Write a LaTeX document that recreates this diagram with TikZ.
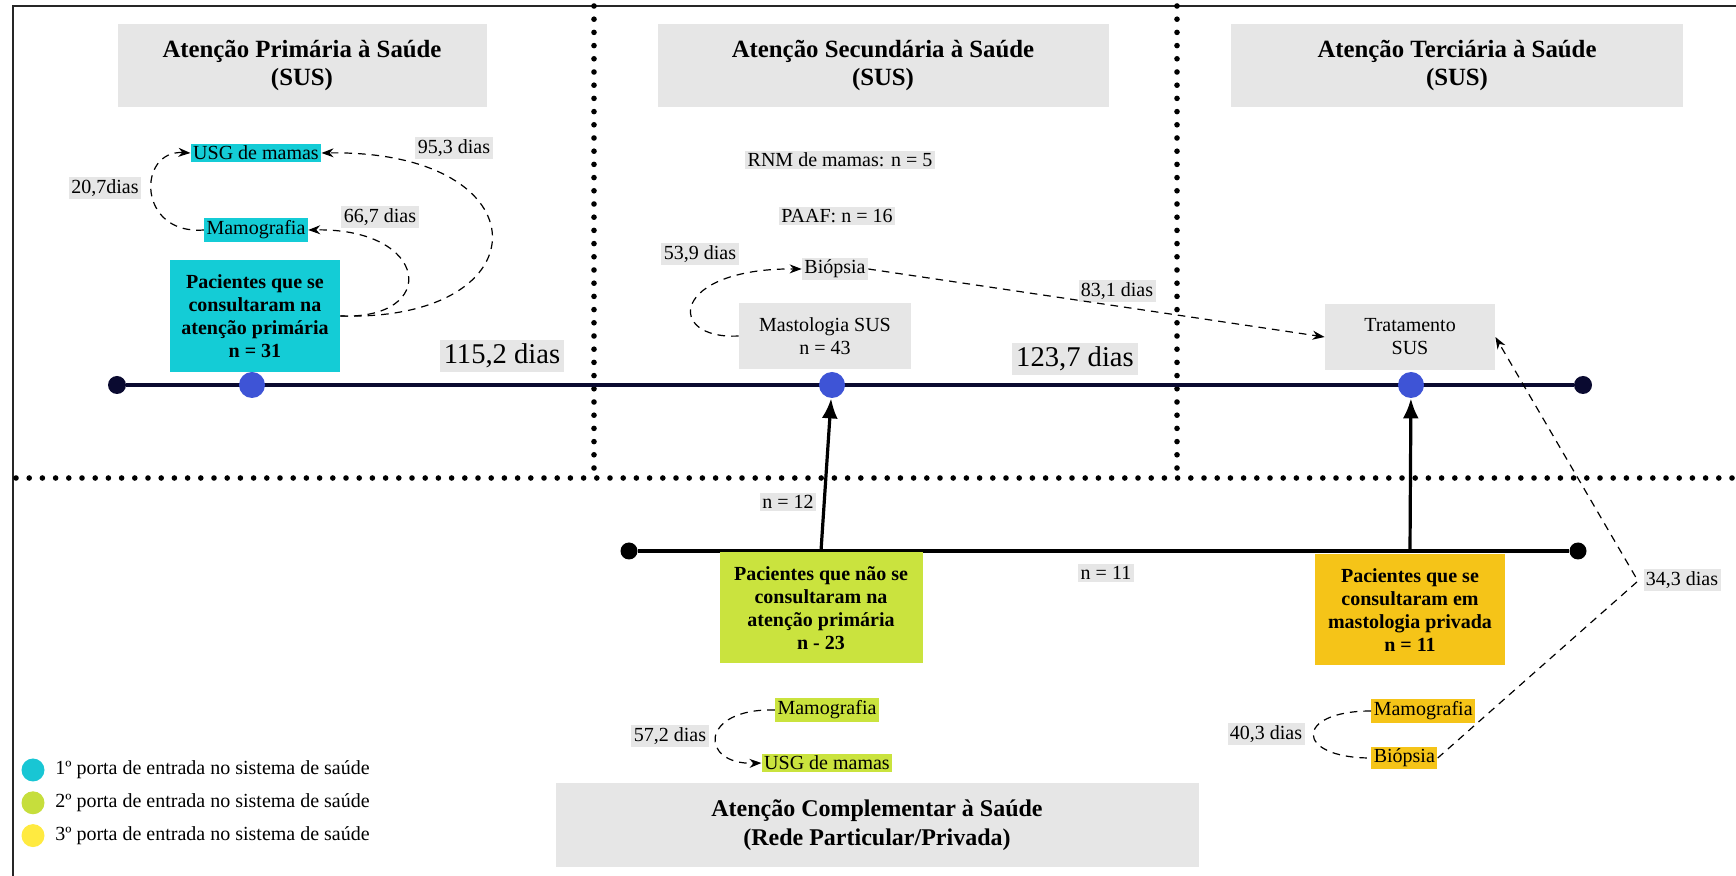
\documentclass[tikz,border=0pt]{standalone}
\usepackage{fontspec}
\setmainfont{Liberation Serif}
\usepackage{tikz}
\usetikzlibrary{positioning, calc}
\usetikzlibrary{arrows.meta}
\definecolor{boxgrey}{RGB}{230,230,230}
\definecolor{primcyan}{RGB}{20,204,214}
\definecolor{seclime}{RGB}{202,227,62}
\definecolor{privorange}{RGB}{245,196,24}
\definecolor{legcyan}{RGB}{24,198,212}
\definecolor{leglime}{RGB}{198,222,60}
\definecolor{legyellow}{RGB}{255,234,64}
\definecolor{dotblue}{RGB}{62,84,214}
\definecolor{navyline}{RGB}{10,10,48}
\tikzstyle{titlebox}=[rectangle,fill=boxgrey,align=center,minimum height=41.5pt,
font=\fontsize{12.4}{14}\selectfont\bfseries]
\tikzstyle{patbox}=[rectangle,align=center,minimum height=55.5pt,inner sep=1pt,
font=\fontsize{10}{11.6}\selectfont\bfseries]
\tikzstyle{carebox}=[rectangle,fill=boxgrey,align=center,minimum height=33pt,
font=\fontsize{10}{11.5}\selectfont]
\tikzstyle{exambox}=[rectangle,inner sep=1.2pt,font=\fontsize{10}{11}\selectfont]
\tikzstyle{daybox}=[exambox,fill=boxgrey]
\tikzstyle{bigdays}=[rectangle,fill=boxgrey,inner sep=2pt,
font=\fontsize{14.3}{16}\selectfont]
\tikzstyle{bluedot}=[circle,fill=dotblue,inner sep=0pt,minimum size=13pt]
\tikzstyle{enddot}=[circle,fill=navyline,inner sep=0pt,minimum size=9pt]
\tikzstyle{legdot}=[circle,inner sep=0pt,minimum size=11.5pt]
\tikzstyle{legtext}=[inner sep=1pt,font=\fontsize{10}{12}\selectfont]
\tikzstyle{sepline}=[line width=2.8pt,line cap=round,dash pattern=on 0pt off 6.6pt]
\tikzstyle{dashpath}=[semithick,dash pattern=on 3.8pt off 3pt,
-{Stealth[length=6pt,width=4.5pt]}]
\tikzstyle{uparrow}=[line width=1.6pt,-{Latex[length=10pt,width=8pt]}]

\begin{document}
\begin{tikzpicture}[x=0.5pt,y=-0.5pt]
    \useasboundingbox (0,0) rectangle (1736,876);
    % frame and separators
    \draw[line width=1.4pt,black!85] (13,876) -- (13,6) -- (1736,6);
    \draw[sepline] (594,6) -- (594,478);
    \draw[sepline] (1177,6) -- (1177,478);
    \draw[sepline] (16,478) -- (1736,478);

    % titles
    \node[titlebox, minimum width=184.5pt] (prim) at (302,66) {Atenção Primária à Saúde\\(SUS)};
    \node[titlebox, minimum width=225.5pt] (sec) at (883,66) {Atenção Secundária à Saúde\\(SUS)};
    \node[titlebox, minimum width=226pt] (terc) at (1457,66) {Atenção Terciária à Saúde\\(SUS)};
    \node[titlebox, minimum width=321.5pt, minimum height=42pt,
      font=\fontsize{12}{14.4}\selectfont\bfseries] (compl) at (877,825)
      {Atenção Complementar à Saúde\\(Rede Particular/Privada)};

    % SUS timeline
    \node[enddot] (tlstart) at (117,385) {};
    \node[enddot] (tlend) at (1583,385) {};
    \draw[line width=1.7pt, navyline] (tlstart) -- (tlend);
    \node[bluedot] (dprim) at (252,385) {};
    \node[bluedot] (dsec) at (832,385) {};
    \node[bluedot] (dterc) at (1411,385) {};

    % private timeline
    \node[enddot, fill=black, minimum size=8.5pt] (plstart) at (629,551) {};
    \node[enddot, fill=black, minimum size=8.5pt] (plend) at (1578,551) {};
    \draw[line width=1.7pt] (plstart) -- (plend);
    \coordinate (psec) at (821,551);
    \coordinate (pterc) at (1410,551);
    \draw[uparrow] (psec) -- (dsec);
    \draw[uparrow] (pterc) -- (dterc);

    % patients
    \node[patbox, fill=primcyan, minimum width=85pt, minimum height=56pt] (patprim) at (255,316)
      {Pacientes que se\\consultaram na\\atenção primária\\n = 31};
    \node[patbox, fill=seclime, minimum width=101.5pt] (patsec) at (821,608)
      {Pacientes que não se\\consultaram na\\atenção primária\\n - 23};
    \node[patbox, fill=privorange, minimum width=95pt] (patpriv) at (1410,610)
      {Pacientes que se\\consultaram em\\mastologia privada\\n = 11};

    % primary care
    \node[exambox, fill=primcyan] (usgprim) at (256,153) {USG de mamas};
    \node[exambox, fill=primcyan] (mamoprim) at (256,230) {Mamografia};
    \node[daybox] (dias207) at (105,188) {20,7dias};
    \node[daybox] (dias667) at (380,217) {66,7 dias};
    \node[daybox] (dias953) at (454,148) {95,3 dias};
    \node[bigdays] (dias1152) at (502,356) {115,2 dias};

    % secondary care
    \node[daybox] (rnm) at (840,160) {RNM de mamas: n = 5};
    \node[daybox] (paaf) at (837,216) {PAAF: n = 16};
    \node[daybox] (biosec) at (835,269) {Biópsia};
    \node[daybox] (dias539) at (700,254) {53,9 dias};
    \node[carebox, minimum width=86pt] (mastsus) at (825,336) {Mastologia SUS\\n = 43};
    \node[bigdays] (dias1237) at (1075,359) {123,7 dias};
    \node[daybox] (dias831) at (1117,291) {83,1 dias};

    % tertiary care
    \node[carebox, minimum width=85pt] (tratsus) at (1410,337) {Tratamento\\SUS};
    \node[daybox] (dias343) at (1682,580) {34,3 dias};
    \node[daybox] (n12) at (788,502) {n = 12};
    \node[daybox] (n11) at (1106,573) {n = 11};

    % private care
    \node[exambox, fill=seclime] (mamosec) at (827,710) {Mamografia};
    \node[exambox, fill=seclime] (usgsec) at (827,763) {USG de mamas};
    \node[daybox] (dias572) at (670,736) {57,2 dias};
    \node[exambox, fill=privorange, anchor=west] (mamopriv) at (1371,711) {Mamografia};
    \node[exambox, fill=privorange, anchor=west] (biopriv) at (1371,758) {Biópsia};
    \node[daybox] (dias403) at (1266,734) {40,3 dias};

    % legend
    \node[legdot, fill=legcyan] (leg1) at (33,770) {};
    \node[legdot, fill=leglime, below=4.5pt of leg1] (leg2) {};
    \node[legdot, fill=legyellow, below=4.5pt of leg2] (leg3) {};
    \node[legtext, right=4pt of leg1] (legtxt1) {1º porta de entrada no sistema de saúde};
    \node[legtext, right=4pt of leg2] (legtxt2) {2º porta de entrada no sistema de saúde};
    \node[legtext, right=4pt of leg3] (legtxt3) {3º porta de entrada no sistema de saúde};

    % waiting times
    \draw[dashpath] (patprim.east) .. controls (440,320) and (430,228) .. (mamoprim.east);
    \draw[dashpath] (patprim.east) .. controls (545,322) and (545,150) .. (usgprim.east);
    \draw[dashpath] (mamoprim.west) .. controls (137,235) and (137,150) .. (usgprim.west);
    \draw[dashpath] (mastsus.west) .. controls (665,340) and (670,268) .. (biosec.west);
    \draw[dashpath] (biosec.east) -- (tratsus.west);
    \coordinate (bend343) at (1638,581);
    \draw[dashpath] (biopriv.east) -- (bend343) -- (tratsus.east);
    \draw[dashpath] (mamosec.west) .. controls (699,708) and (699,765) .. (usgsec.west);
    \draw[dashpath, -] (mamopriv.west) .. controls (1294,711) and (1294,758) .. (biopriv.west);
\end{tikzpicture}
\end{document}
